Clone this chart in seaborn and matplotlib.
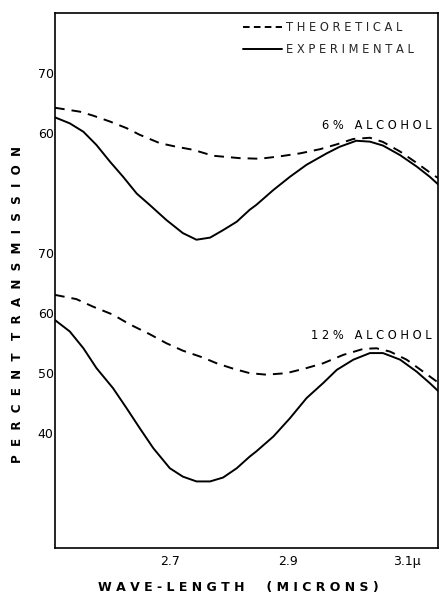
import matplotlib
matplotlib.use("Agg")
import matplotlib.pyplot as plt
import numpy as np
import pandas as pd
import seaborn as sns
from matplotlib.lines import Line2D

# ---------------- data ----------------
# 6% alcohol (upper block, read on upper scale)
wl_theo_6 = [2.506, 2.548, 2.570, 2.599, 2.627, 2.649, 2.683, 2.711, 2.739,
             2.773, 2.818, 2.852, 2.886, 2.920, 2.954, 2.982, 3.010, 3.038,
             3.060, 3.089, 3.117, 3.145, 3.153]
tr_theo_6 = [64.2, 63.55, 62.9, 61.9, 60.8, 59.7, 58.3, 57.7, 57.2,
             56.2, 55.8, 55.7, 56.1, 56.6, 57.3, 58.1, 59.0, 59.2,
             58.5, 56.9, 55.0, 53.0, 52.5]

wl_exp_6 = [2.506, 2.531, 2.554, 2.576, 2.599, 2.621, 2.644, 2.666, 2.694,
            2.722, 2.745, 2.768, 2.790, 2.813, 2.835, 2.846, 2.875, 2.903,
            2.931, 2.965, 2.987, 3.015, 3.038, 3.060, 3.089, 3.117, 3.139,
            3.153]
tr_exp_6 = [62.6, 61.6, 60.2, 58.0, 55.2, 52.7, 49.9, 48.0, 45.5,
            43.3, 42.2, 42.55, 43.8, 45.2, 47.2, 48.0, 50.5, 52.7,
            54.7, 56.6, 57.7, 58.7, 58.55, 57.9, 56.3, 54.4, 52.7,
            51.45]

# 12% alcohol (lower block, read on lower scale)
wl_theo_12 = [2.506, 2.542, 2.570, 2.604, 2.632, 2.666, 2.694, 2.722, 2.756,
              2.779, 2.807, 2.835, 2.863, 2.897, 2.931, 2.959, 2.993, 3.027,
              3.049, 3.072, 3.100, 3.128, 3.151]
tr_theo_12 = [63.0, 62.3, 61.05, 59.7, 58.1, 56.45, 54.95, 53.7, 52.55,
              51.6, 50.7, 49.95, 49.7, 49.95, 50.8, 51.6, 53.0, 54.0,
              54.1, 53.55, 52.2, 50.2, 48.55]

wl_exp_12 = [2.506, 2.531, 2.554, 2.576, 2.604, 2.627, 2.649, 2.672, 2.700,
             2.722, 2.745, 2.768, 2.790, 2.813, 2.835, 2.846, 2.875, 2.903,
             2.931, 2.959, 2.982, 3.010, 3.038, 3.060, 3.089, 3.117, 3.139,
             3.153]
tr_exp_12 = [58.8, 56.9, 54.1, 50.8, 47.45, 44.1, 40.8, 37.45, 34.1,
             32.7, 31.9, 31.9, 32.55, 34.1, 36.05, 36.9, 39.4, 42.45,
             45.8, 48.3, 50.5, 52.2, 53.3, 53.3, 52.2, 50.2, 48.3,
             47.0]

# vertical offset of the lower block on the shared axis
lower_offset = 30

x_ticks = [2.6, 2.7, 2.8, 2.9, 3.0, 3.1]
x_ticklabels = ["", "2.7", "", "2.9", "", "3.1\u03bc"]
y_ticks = [70, 60, 50, 40, 30, 20, 10, 0]
y_ticklabels = ["70", "60", "", "70", "60", "50", "40", ""]

legend_labels = ["THEORETICAL", "EXPERIMENTAL"]
curve_labels = ["6% ALCOHOL", "12% ALCOHOL"]


def spaced(s, n=1, word=3):
    words = s.split(" ")
    return (" " * word).join((" " * n).join(w) for w in words)


# ---------------- figure ----------------
sns.set_style("white")
plt.rcParams["font.family"] = ["DejaVu Sans"]

fig = plt.figure(figsize=(4.40, 5.96), dpi=100)
ax = fig.add_axes([55 / 440, 1 - 548 / 596, 383 / 440, 535 / 596])

lw = 1.4
curve_dash = (0, (5.0, 3.6))
sns.lineplot(x=wl_theo_6, y=tr_theo_6, ax=ax, color="black", lw=lw,
             sort=False, estimator=None)
sns.lineplot(x=wl_exp_6, y=tr_exp_6, ax=ax, color="black", lw=lw,
             sort=False, estimator=None)
sns.lineplot(x=wl_theo_12, y=np.array(tr_theo_12) - lower_offset, ax=ax,
             color="black", lw=lw, sort=False, estimator=None)
sns.lineplot(x=wl_exp_12, y=np.array(tr_exp_12) - lower_offset, ax=ax,
             color="black", lw=lw, sort=False, estimator=None)
lines = ax.get_lines()
lines[0].set_linestyle(curve_dash)
lines[2].set_linestyle(curve_dash)
for ln in lines:
    ln.set_solid_capstyle("round")
    ln.set_solid_joinstyle("round")

ax.set_xlim(2.506, 3.153)
ax.set_ylim(-9.2, 80)

ax.set_xticks(x_ticks)
ax.set_xticklabels(x_ticklabels)
ax.set_yticks(y_ticks)
ax.set_yticklabels(y_ticklabels)
ax.tick_params(axis="both", direction="in", length=5, width=1.1,
               color="black", labelsize=9, labelcolor="black")
ax.tick_params(axis="y", pad=1)
ax.tick_params(axis="x", pad=5)

for sp in ax.spines.values():
    sp.set_visible(True)
    sp.set_color("black")
    sp.set_linewidth(1.2)

ax.set_ylabel(spaced("PERCENT TRANSMISSION", 2, 3), fontsize=8.6,
              fontweight="bold", color="black", va="center")
ax.yaxis.set_label_coords(-0.099, 0.456)
ax.set_xlabel(spaced("WAVE-LENGTH (MICRONS)", 1, 5), fontsize=9,
              fontweight="bold", color="black", va="center")
ax.xaxis.set_label_coords(0.478, -0.073)

handles = [Line2D([], [], color="black", lw=lw, linestyle=(0, (3.4, 2.2))),
           Line2D([], [], color="black", lw=lw)]
ax.legend(handles, [spaced(t) for t in legend_labels], loc="upper left",
          bbox_to_anchor=(0.49, 0.985), frameon=False, fontsize=8.3,
          handlelength=3.4, handletextpad=0.35, borderpad=0,
          borderaxespad=0, labelspacing=0.75)

ax.text(3.143, 61.3, spaced(curve_labels[0]), ha="right", va="center",
        fontsize=8.3, color="black")
ax.text(3.143, 26.3, spaced(curve_labels[1]), ha="right", va="center",
        fontsize=8.3, color="black")

fig.savefig("out.png", dpi=100)
